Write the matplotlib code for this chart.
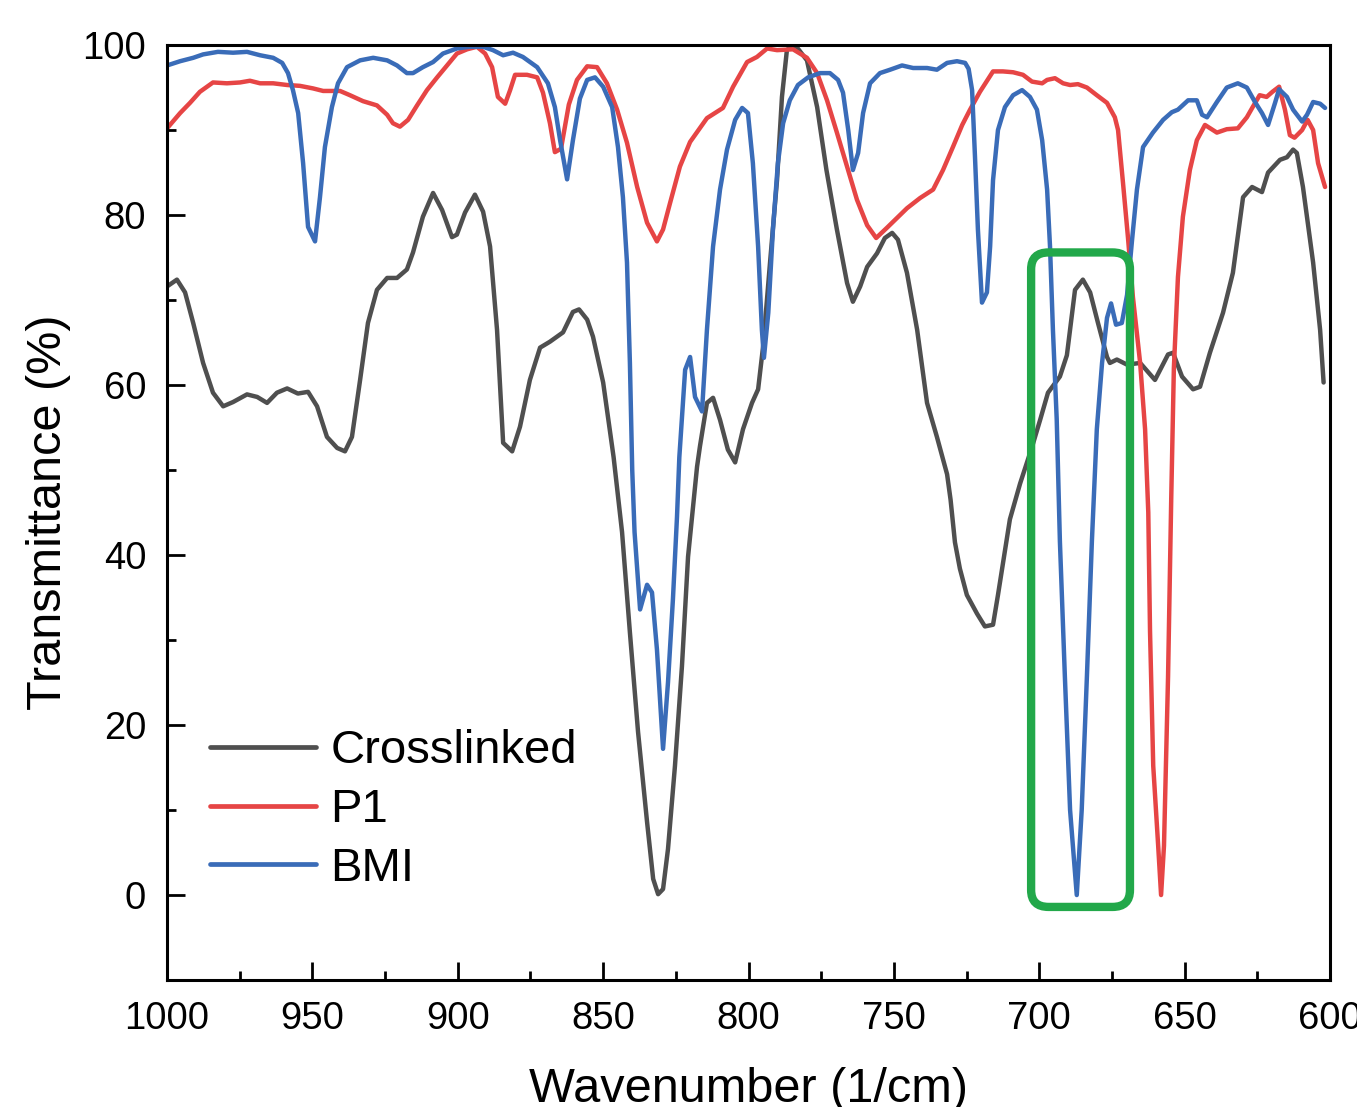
import matplotlib
matplotlib.use("Agg")
import matplotlib.pyplot as plt
from matplotlib.patches import FancyBboxPatch
import numpy as np

plt.rcParams['font.family'] = ['Liberation Sans', 'DejaVu Sans']

# ---------------- data (wavenumber in 1/cm, transmittance in %) ----------------
cross_wn = [1000, 996.6, 993.8, 991, 987.6, 984.2, 980.7, 977.3, 972.5, 969, 965.6, 962.2, 958.7,
            955, 951.5, 948.4, 945, 941.5, 938.8, 936.4, 933.6, 930.9, 927.8, 924.3, 920.9, 917.5,
            915.4, 912, 908.5, 905.4, 902, 900.3, 897.5, 894.1, 891.3, 888.9, 886.5, 884.4, 881.3,
            878.6, 875.2, 871.7, 868.3, 863.8, 860.4, 858.3, 855.5, 853.5, 850, 846.4, 843.5, 840.8,
            838, 834.9, 832.8, 831.1, 829.4, 827.7, 825.3, 822.9, 820.8, 817.7, 816.7, 814.3, 812.2,
            809.8, 807.1, 804.6, 801.9, 798.8, 796.7, 795, 792.6, 790.2, 788.5, 786.8, 785, 783.5,
            779.9, 776.4, 773.2, 769.6, 766.1, 764.1, 761.6, 759.2, 755.8, 753.1, 750.6, 748.6,
            745.5, 742, 738.6, 735.2, 731.7, 730.5, 729, 727.3, 724.9, 721.4, 718.7, 715.9, 714.2,
            711.8, 710.1, 706.6, 702.5, 699.7, 697, 692.9, 690.5, 687.7, 685, 682.5, 679.8, 676.7,
            675.7, 673.3, 669.8, 665.3, 660.2, 657.8, 655.7, 654, 650.9, 647.1, 644.7, 641.3, 636.8,
            633.4, 629.9, 626.8, 623.4, 621.3, 617.2, 614.8, 612.7, 611.4, 609.3, 605.8, 603.4, 602.2]
cross_t = [71.6, 72.4, 70.9, 67.3, 62.6, 59.1, 57.5, 58.0, 58.9, 58.6, 57.9, 59.1, 59.6,
           59.0, 59.2, 57.5, 53.9, 52.6, 52.2, 53.9, 60.6, 67.3, 71.2, 72.6, 72.6, 73.6,
           75.6, 79.8, 82.6, 80.6, 77.4, 77.7, 80.3, 82.4, 80.4, 76.3, 66.5, 53.2, 52.2,
           55.1, 60.6, 64.4, 65.1, 66.2, 68.6, 68.9, 67.7, 65.7, 60.3, 51.5, 42.7, 30.9,
           19.2, 8.6, 1.9, 0.1, 0.7, 5.4, 15.2, 26.9, 39.8, 50.4, 52.8, 57.9, 58.5,
           55.9, 52.4, 50.9, 54.8, 57.9, 59.5, 64.5, 74.4, 84.1, 93.9, 99.4, 100.0, 99.8,
           98.2, 92.7, 85.3, 78.3, 72.0, 69.8, 71.6, 73.9, 75.5, 77.3, 77.9, 77.1,
           73.2, 66.5, 57.9, 53.9, 49.5, 46.5, 41.5, 38.4, 35.3, 33.1, 31.6, 31.8, 35.3,
           40.5, 44.2, 48.4, 52.7, 55.9, 59.1, 61.0, 63.5, 71.2, 72.4, 70.9, 67.3, 63.3,
           62.6, 63.0, 62.4, 62.6, 60.6, 62.2, 63.6, 63.8, 61.0, 59.5, 59.8, 63.8, 68.5,
           73.2, 82.1, 83.3, 82.7, 85.0, 86.5, 86.8, 87.7, 87.3, 83.3, 74.4, 66.5, 60.3]

p1_wn = [1000, 995.5, 992.1, 988.7, 984.2, 979.4, 974.9, 971.5, 968, 963.5, 958.7, 954.3, 949.8,
         946.3, 940.5, 937.1, 932.6, 927.8, 924.3, 922.3, 919.9, 917.1, 914, 910.6, 907.1, 903.7,
         900.3, 896.8, 893.4, 890.6, 888.2, 886.2, 883.7, 882, 880.3, 876.2, 872.7, 870.7, 868.3,
         866.6, 864.5, 861.8, 859, 855.5, 852.1, 848.7, 845.2, 841.8, 838.3, 834.9, 831.5, 829.4,
         827, 823.6, 820.1, 814.3, 808.8, 805.3, 800.5, 797.1, 793.6, 790.2, 784.7, 779.9, 776.4,
         773, 769.6, 766.1, 762.7, 759.2, 756.1, 752.4, 745.5, 741, 736.5, 733.1, 729.7, 726.5,
         723.8, 720.4, 715.9, 712.5, 709, 705.6, 702.5, 699, 697.3, 694.6, 691.8, 689.4, 686.7,
         683.6, 680.2, 676.7, 674, 672.9, 671.2, 669.5, 667.8, 665.3, 663.6, 662.5, 661.9, 660.8,
         659.1, 658.1, 657.1, 655.7, 654.6, 653.7, 652.3, 650.6, 648.2, 645.8, 643, 638.9, 635.5,
         631.7, 628.6, 626.6, 624.2, 621.8, 619.8, 617.5, 615.5, 613.8, 612.2, 609.6, 607.7, 605.8,
         604.1, 601.7]
p1_t = [90.2, 92.0, 93.2, 94.5, 95.6, 95.5, 95.6, 95.8, 95.5, 95.5, 95.3, 95.2, 94.9,
        94.6, 94.6, 94.1, 93.4, 92.9, 91.8, 90.8, 90.4, 91.2, 92.9, 94.7, 96.2, 97.6,
        99.0, 99.5, 99.8, 99.0, 97.4, 93.9, 93.1, 94.7, 96.5, 96.5, 96.2, 94.4, 90.8,
        87.4, 87.8, 93.0, 95.9, 97.5, 97.4, 95.5, 92.4, 88.5, 83.3, 79.1, 76.9, 78.3,
        81.4, 85.7, 88.6, 91.4, 92.6, 95.1, 98.0, 98.6, 99.6, 99.4, 99.5, 98.5, 96.7,
        93.5, 89.7, 85.7, 81.8, 78.8, 77.3, 78.5, 80.8, 82.0, 83.0, 85.3, 88.0, 90.6,
        92.4, 94.5, 96.9, 96.9, 96.8, 96.5, 95.7, 95.5, 95.9, 96.1, 95.5, 95.3, 95.4,
        95.0, 94.1, 93.2, 91.5, 90.0, 83.8, 77.4, 70.4, 62.6, 54.8, 45.0, 31.0, 15.2,
        5.8, 0.0, 5.8, 25.7, 46.8, 62.0, 72.7, 79.8, 85.3, 88.8, 90.6, 89.7, 90.1,
        90.2, 91.5, 92.7, 94.1, 93.9, 94.5, 95.1, 92.4, 89.4, 89.1, 90.0, 91.2, 90.0,
        86.1, 83.3]

bmi_wn = [1000, 995.5, 991, 987.6, 982.5, 977.3, 972.5, 968, 963.5, 960.4, 958.4, 956.7, 954.9,
          953.2, 951.5, 949.1, 947.4, 945.7, 943.3, 941.2, 938.1, 933.6, 929.1, 924.3, 920.9,
          917.5, 915.4, 912, 908.5, 905.1, 900.3, 895.8, 891.3, 887.9, 884.4, 881, 877.6, 872.7,
          869, 866.6, 864.8, 862.4, 860.4, 858, 855.5, 852.8, 850, 846.9, 844.9, 843.2, 841.8,
          840.8, 840, 839.2, 837.3, 834.9, 833.2, 831.5, 829.4, 827.7, 826, 824.6, 823.8, 821.8,
          820.1, 818.4, 816, 814.3, 812.2, 809.8, 807.4, 804.6, 802.2, 800.2, 798.5, 796.7, 795.4,
          794.7, 793.2, 791.6, 789.9, 788.1, 785.8, 783, 779.5, 775.4, 772, 769.2, 767.5, 765.7,
          764.1, 762.3, 760.6, 758.2, 754.8, 751.3, 747.2, 743.4, 738.6, 735.2, 731.7, 728.3,
          725.5, 724.3, 723.1, 722.1, 721.1, 719.7, 718, 716.9, 715.9, 714.2, 711.8, 709, 705.9,
          703.2, 700.8, 699, 697.3, 696.3, 695.3, 694, 692.9, 691.2, 689.4, 687.1, 685.4, 683.6,
          681.9, 680.2, 678.4, 676.7, 675.3, 673.6, 671.6, 669.8, 668.1, 666.4, 664.3, 660.9,
          657.4, 654.4, 652.3, 648.8, 645.8, 644, 642.3, 638.9, 635.5, 631.7, 628.6, 625.8, 623.4,
          621.3, 618.9, 617.5, 614.8, 612.7, 609.6, 607.9, 605.8, 603.4, 601.7]
bmi_t = [97.6, 98.1, 98.5, 98.9, 99.2, 99.1, 99.2, 98.8, 98.5, 97.9, 96.7, 94.7, 92.0,
         86.1, 78.6, 76.9, 82.1, 88.0, 92.7, 95.5, 97.4, 98.2, 98.5, 98.2, 97.6,
         96.7, 96.7, 97.4, 98.0, 99.0, 99.6, 99.8, 99.8, 99.4, 98.8, 99.1, 98.6, 97.4,
         95.5, 92.7, 88.8, 84.2, 88.8, 93.7, 95.9, 96.2, 95.1, 92.7, 88.0, 82.1, 74.4,
         62.6, 50.0, 42.7, 33.6, 36.5, 35.6, 28.9, 17.2, 25.0, 34.8, 44.5, 51.5, 61.8,
         63.3, 58.6, 56.9, 66.5, 76.3, 83.0, 87.7, 91.2, 92.6, 92.0, 86.1, 76.3, 66.5,
         63.2, 68.5, 78.3, 86.1, 90.8, 93.5, 95.3, 96.2, 96.7, 96.7, 95.9, 94.4, 90.0,
         85.3, 87.3, 92.0, 95.5, 96.7, 97.1, 97.6, 97.3, 97.3, 97.1, 97.9, 98.1,
         97.9, 97.2, 94.7, 86.8, 78.3, 69.7, 70.9, 76.3, 84.1, 90.0, 92.7, 94.1, 94.7,
         93.9, 92.4, 88.8, 83.0, 76.3, 66.5, 56.0, 41.6, 25.8, 10.0, 0.0, 10.0, 25.8,
         41.6, 54.8, 62.6, 67.9, 69.6, 67.1, 67.3, 70.6, 77.0, 83.0, 88.0, 89.7,
         91.2, 92.1, 92.4, 93.5, 93.5, 91.8, 91.5, 93.3, 95.0, 95.5, 95.0, 93.3, 92.0,
         90.6, 93.2, 94.8, 93.9, 92.4, 91.0, 91.8, 93.3, 93.1, 92.6]

series_labels = ["Crosslinked", "P1", "BMI"]
series_colors = ["#4f4f4f", "#e64545", "#3a6cb8"]

# ---------------- figure ----------------
fig = plt.figure(figsize=(13.57, 11.07), dpi=100)
ax = fig.add_axes([0.1231, 0.1147, 0.8570, 0.8446])

for wn, t, lab, col in zip([cross_wn, p1_wn, bmi_wn], [cross_t, p1_t, bmi_t],
                           series_labels, series_colors):
    ax.plot(wn, t, color=col, lw=3.2, label=lab,
            solid_joinstyle='round', solid_capstyle='round')

ax.set_xlim(1000, 600)
ax.set_ylim(-10, 100)
ax.set_xticks(np.arange(600, 1001, 50))
ax.set_xticks(np.arange(625, 1000, 50), minor=True)
ax.set_yticks(np.arange(0, 101, 20))
ax.set_yticks(np.arange(10, 100, 20), minor=True)

for s in ax.spines.values():
    s.set_linewidth(2.2)
ax.tick_params(axis='both', which='major', direction='in', length=13, width=2.0,
               labelsize=27.5, top=False, right=False)
ax.tick_params(axis='both', which='minor', direction='in', length=6.5, width=2.0,
               top=False, right=False)
ax.tick_params(axis='x', which='major', pad=15)
ax.tick_params(axis='y', which='major', pad=15)

ax.set_xlabel("Wavenumber (1/cm)", fontsize=35, labelpad=22)
ax.set_ylabel("Transmittance (%)", fontsize=35, labelpad=8)

# highlight box
box = FancyBboxPatch((668.8, -1.4), 34.0, 77.0,
                     boxstyle="round,pad=0,rounding_size=6",
                     mutation_aspect=0.33,
                     fill=False, edgecolor="#22a84a", linewidth=6.0,
                     transform=ax.transData, zorder=5)
ax.add_patch(box)

leg = ax.legend(loc='upper left', bbox_to_anchor=(0.037, 0.268), frameon=False,
                fontsize=34, handlelength=2.25, handletextpad=0.3,
                labelspacing=0.31, borderpad=0, borderaxespad=0)
for h in leg.get_lines():
    h.set_linewidth(3.4)

fig.savefig("out.png", dpi=100)
